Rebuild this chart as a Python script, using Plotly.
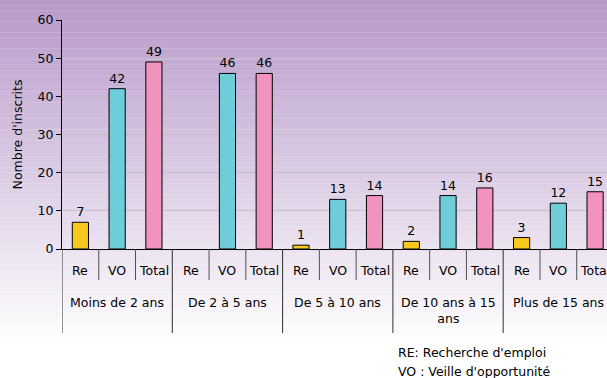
import plotly.graph_objects as go

groups = ["Moins de 2 ans", "De 2 à 5 ans", "De 5 à 10 ans", "De 10 ans à 15<br>ans", "Plus de 15 ans"]
subs = ["Re", "VO", "Total"]
re_vals = [7, None, 1, 2, 3]
vo_vals = [42, 46, 13, 14, 12]
total_vals = [49, 46, 14, 16, 15]
notes = ["RE: Recherche d'emploi", "VO : Veille d'opportunité"]

colors = {"Re": "#F7C81E", "VO": "#6FCDD9", "Total": "#F292BF"}
FONT = "DejaVu Sans, Arial, sans-serif"
FS = 12.5

W, H = 607, 378
ML, MR, MT, MB = 62, 0, 20, 129
pw, ph = W - ML - MR, H - MT - MB

fig = go.Figure()
series = {"Re": re_vals, "VO": vo_vals, "Total": total_vals}
n_sub = len(subs)
for s_i, s in enumerate(subs):
    xs = [g * n_sub + s_i for g in range(len(groups))]
    vals = series[s]
    fig.add_trace(go.Bar(
        x=xs, y=vals, width=0.44,
        marker=dict(color=colors[s], line=dict(color="#000000", width=1)),
        text=[("" if v is None else str(v)) for v in vals],
        textposition="outside", cliponaxis=False,
        textfont=dict(family=FONT, size=FS, color="#000000"),
        showlegend=False, hoverinfo="skip",
    ))

# background gradient
top = (183, 153, 201)
bot = (255, 255, 255)
fade_px = 345
nb = 70
shapes = []
for k in range(nb):
    y0px = k * H / nb
    y1px = (k + 1) * H / nb
    f = min(1.0, ((y0px + y1px) / 2) / fade_px)
    c = tuple(int(round(top[j] + (bot[j] - top[j]) * f)) for j in range(3))
    shapes.append(dict(type="rect", xref="paper", yref="paper", layer="below",
                       x0=-ML / pw - 0.01, x1=1.01,
                       y0=(H - MB - y1px) / ph, y1=(H - MB - y0px) / ph + 0.001,
                       fillcolor="rgb(%d,%d,%d)" % c, line=dict(width=0)))

# category boundaries
n_cat = len(groups) * n_sub
for b in range(n_cat + 1):
    xb = b - 0.5
    long = (b % n_sub == 0)
    shapes.append(dict(type="line", xref="x", yref="paper", layer="above",
                       x0=xb, x1=xb, y0=0, y1=(-84 if long else -31) / ph,
                       line=dict(color="#303030" if long else "#505050", width=1)))

ann = []
for g in range(len(groups)):
    for s_i, s in enumerate(subs):
        ann.append(dict(x=g * n_sub + s_i, y=0, xref="x", yref="paper", text=s,
                        showarrow=False, yanchor="middle", yshift=-21,
                        font=dict(family=FONT, size=FS, color="#000000")))
    ann.append(dict(x=g * n_sub + 1, y=0, xref="x", yref="paper", text=groups[g],
                    showarrow=False, yanchor="top", yshift=-44,
                    font=dict(family=FONT, size=FS, color="#000000")))
for i, t in enumerate(notes):
    ann.append(dict(x=(396 - ML) / pw, y=0, xref="paper", yref="paper", text=t,
                    showarrow=False, xanchor="left", yanchor="middle", yshift=-103 - 19 * i,
                    font=dict(family=FONT, size=FS, color="#000000")))

fig.update_layout(
    width=W, height=H,
    margin=dict(l=ML, r=MR, t=MT, b=MB),
    paper_bgcolor="#FFFFFF", plot_bgcolor="rgba(0,0,0,0)",
    barmode="overlay",
    shapes=shapes, annotations=ann,
    xaxis=dict(range=[-0.5, n_cat - 0.5 - 6.5 / (pw / (n_cat - 0.18))], showticklabels=False,
               ticks="", showgrid=False, zeroline=False, showline=True,
               linecolor="#000000", linewidth=1, fixedrange=True),
    yaxis=dict(range=[0, 60], dtick=10, ticks="outside", ticklen=5, tickcolor="#000000",
               showline=True, linecolor="#000000", linewidth=1,
               showgrid=True, gridcolor="#C6C0C8", gridwidth=1, zeroline=False,
               tickfont=dict(family=FONT, size=FS, color="#000000"),
               title=dict(text="Nombre d'inscrits", standoff=12,
                          font=dict(family=FONT, size=FS, color="#000000"))),
)

fig.write_html("out.html")
